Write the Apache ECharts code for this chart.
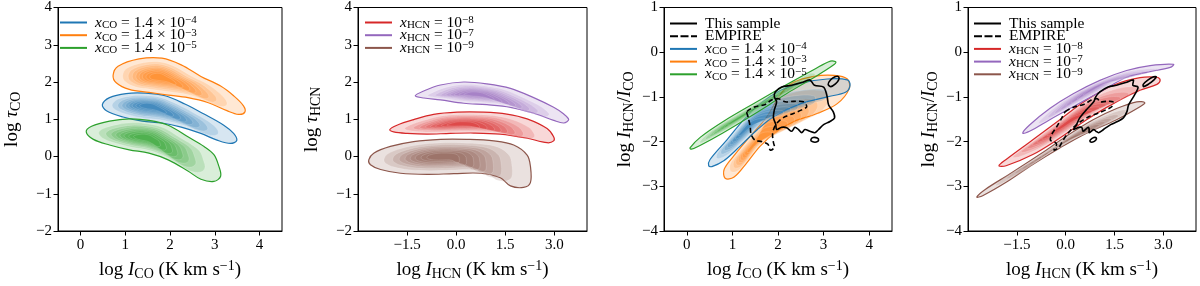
<!DOCTYPE html>
<html><head><meta charset="utf-8">
<script src="https://cdn.jsdelivr.net/npm/echarts@6/dist/echarts.min.js"></script>
<style>html,body{margin:0;padding:0;background:#fff}#c{width:1200px;height:286px}</style>
</head><body><div id="c"></div>
<script>
// ---------------- data ----------------
const xTicksCO = [0, 1, 2, 3, 4];
const xTickLabelsCO = ['0', '1', '2', '3', '4'];
const xTicksHCN = [-1.5, 0, 1.5, 3];
const xTickLabelsHCN = ['\u22121.5', '0.0', '1.5', '3.0'];
const yTicksTau = [-2, -1, 0, 1, 2, 3, 4];
const yTickLabelsTau = ['\u22122', '\u22121', '0', '1', '2', '3', '4'];
const yTicksRatio = [-4, -3, -2, -1, 0, 1];
const yTickLabelsRatio = ['\u22124', '\u22123', '\u22122', '\u22121', '0', '1'];

const coModelNames = ['xCO = 1.4e-4', 'xCO = 1.4e-3', 'xCO = 1.4e-5'];
const coModelLabels = ['{it|x}{sb|CO} = 1.4 \u00d7 10{sp|\u22124}', '{it|x}{sb|CO} = 1.4 \u00d7 10{sp|\u22123}', '{it|x}{sb|CO} = 1.4 \u00d7 10{sp|\u22125}'];
const hcnModelNames = ['xHCN = 1e-8', 'xHCN = 1e-7', 'xHCN = 1e-9'];
const hcnModelLabels = ['{it|x}{sb|HCN} = 10{sp|\u22128}', '{it|x}{sb|HCN} = 10{sp|\u22127}', '{it|x}{sb|HCN} = 10{sp|\u22129}'];
const obsNames = ['This sample', 'EMPIRE'];

const xTitleCO = 'log {it|I}{sb|CO} (K km s{sp|\u22121})';
const xTitleHCN = 'log {it|I}{sb|HCN} (K km s{sp|\u22121})';
const yTitleTauCO = 'log {it|\u03c4}{sb|CO}';
const yTitleTauHCN = 'log {it|\u03c4}{sb|HCN}';
const yTitleRatio = 'log {it|I}{sb|HCN}/{it|I}{sb|CO}';

// panel 1: log tau_CO vs log I_CO (outer contour + density peak)
const tauCO_x4 = [[0.49,1.39],[0.65,1.58],[1.02,1.69],[1.45,1.70],[1.89,1.63],[2.33,1.41],[2.76,1.14],[3.20,0.84],[3.42,0.62],[3.49,0.43],[3.35,0.35],[3.05,0.44],[2.69,0.62],[2.25,0.79],[1.82,0.90],[1.38,0.95],[0.95,1.06],[0.58,1.23]];
const tauCO_x4_peak = [1.53, 1.36];
const tauCO_x3 = [[0.73,2.18],[0.84,2.42],[1.31,2.62],[1.82,2.64],[2.25,2.46],[2.69,2.15],[3.13,1.89],[3.42,1.63],[3.64,1.36],[3.67,1.19],[3.53,1.13],[3.27,1.23],[2.84,1.45],[2.40,1.58],[1.96,1.65],[1.53,1.72],[1.09,1.80],[0.80,1.98]];
const tauCO_x3_peak = [1.75, 2.13];
const tauCO_x5 = [[0.13,0.66],[0.25,0.81],[0.65,0.95],[1.09,1.01],[1.53,0.97],[1.96,0.84],[2.40,0.53],[2.76,0.27],[2.98,0.05],[3.09,-0.26],[3.13,-0.53],[2.98,-0.67],[2.69,-0.61],[2.40,-0.39],[1.96,-0.09],[1.53,0.09],[1.09,0.18],[0.65,0.31],[0.29,0.46]];
const tauCO_x5_peak = [1.45, 0.50];

// panel 2: log tau_HCN vs log I_HCN
const tauHCN_x8 = [[-2.03,0.72],[-1.81,0.84],[-1.30,0.99],[-0.69,1.13],[0.03,1.19],[0.84,1.19],[1.55,1.14],[2.17,1.01],[2.78,0.75],[2.98,0.53],[2.98,0.42],[2.78,0.37],[2.17,0.49],[1.35,0.60],[0.54,0.63],[-0.18,0.62],[-0.89,0.60],[-1.50,0.62],[-1.91,0.66]];
const tauHCN_x8_peak = [0.15, 0.87];
const tauHCN_x7 = [[-1.25,1.63],[-0.99,1.76],[-0.48,1.92],[0.23,2.00],[0.94,1.95],[1.66,1.83],[2.37,1.58],[2.98,1.32],[3.29,1.14],[3.44,0.99],[3.29,0.90],[2.98,0.97],[2.37,1.16],[1.66,1.32],[0.94,1.39],[0.23,1.43],[-0.48,1.52],[-0.99,1.57]];
const tauHCN_x7_peak = [0.60, 1.67];
const tauHCN_x9 = [[-2.67,-0.09],[-2.52,0.09],[-2.01,0.27],[-1.30,0.40],[-0.48,0.46],[0.33,0.46],[1.15,0.42],[1.76,0.31],[2.17,0.04],[2.27,-0.26],[2.27,-0.70],[2.06,-0.83],[1.66,-0.79],[1.35,-0.57],[0.74,-0.45],[-0.07,-0.46],[-0.89,-0.48],[-1.70,-0.45],[-2.31,-0.35],[-2.62,-0.22]];
const tauHCN_x9_peak = [-0.45, 0.00];

// panel 3: log I_HCN/I_CO vs log I_CO
const ratCO_x4 = [[0.48,-2.54],[0.51,-2.40],[0.88,-1.96],[1.25,-1.51],[1.61,-1.15],[2.06,-0.85],[2.50,-0.69],[3.08,-0.60],[3.52,-0.62],[3.58,-0.74],[3.49,-0.89],[3.08,-1.00],[2.50,-1.15],[1.91,-1.44],[1.54,-1.74],[1.17,-2.10],[0.81,-2.43],[0.55,-2.56]];
const ratCO_x4_peak = [1.30, -1.70];
const ratCO_x3 = [[0.84,-2.82],[0.82,-2.62],[1.03,-2.32],[1.39,-1.88],[1.76,-1.44],[2.06,-0.93],[2.35,-0.67],[2.79,-0.54],[3.23,-0.52],[3.52,-0.60],[3.56,-0.82],[3.30,-1.15],[2.86,-1.37],[2.35,-1.55],[1.98,-1.77],[1.61,-2.10],[1.32,-2.47],[1.03,-2.80]];
const ratCO_x3_peak = [1.45, -2.10];
const ratCO_x5 = [[0.07,-2.14],[0.30,-1.90],[0.80,-1.55],[1.50,-1.13],[2.20,-0.72],[2.80,-0.38],[3.15,-0.20],[3.27,-0.22],[3.20,-0.30],[2.80,-0.56],[2.20,-0.92],[1.50,-1.37],[0.80,-1.80],[0.30,-2.08],[0.10,-2.17]];
const ratCO_x5_peak = [1.10, -1.50];
const sampleCO = [
  [[1.94,-0.89],[2.08,-0.78],[2.30,-0.74],[2.52,-0.68],[2.70,-0.62],[2.80,-0.74],[3.00,-0.78],[3.07,-0.96],[3.11,-1.18],[3.21,-1.33],[3.24,-1.47],[3.14,-1.55],[3.00,-1.62],[2.89,-1.73],[2.81,-1.80],[2.70,-1.77],[2.59,-1.73],[2.52,-1.80],[2.45,-1.73],[2.37,-1.68],[2.30,-1.77],[2.19,-1.69],[2.08,-1.68],[1.97,-1.73],[1.95,-1.61],[1.90,-1.47],[1.92,-1.29],[1.97,-1.11],[1.92,-1.00]],
  [[3.10,-0.72],[3.15,-0.62],[3.25,-0.55],[3.33,-0.55],[3.33,-0.62],[3.26,-0.71],[3.16,-0.77]],
  [[2.72,-1.96],[2.77,-1.91],[2.86,-1.92],[2.89,-1.97],[2.84,-2.01],[2.75,-2.00]]
];
const empireCO = [
  [[1.32,-1.33],[1.50,-1.22],[1.72,-1.17],[1.86,-1.07],[2.01,-1.04],[2.16,-1.11],[2.34,-1.10],[2.56,-1.11],[2.63,-1.22],[2.52,-1.29],[2.34,-1.37],[2.16,-1.44],[2.01,-1.55],[1.92,-1.68],[1.88,-1.84],[1.90,-2.02],[1.92,-2.13],[1.83,-2.19],[1.78,-2.06],[1.64,-2.00],[1.50,-1.97],[1.41,-1.84],[1.39,-1.66],[1.35,-1.47]]
];

// panel 4: log I_HCN/I_CO vs log I_HCN
const ratHCN_x8 = [[-2.05,-2.54],[-1.83,-2.40],[-1.01,-1.96],[-0.18,-1.51],[0.64,-1.07],[1.46,-0.74],[2.28,-0.57],[2.80,-0.56],[2.90,-0.62],[2.80,-0.72],[2.28,-0.85],[1.46,-1.15],[0.64,-1.51],[-0.18,-1.92],[-1.01,-2.29],[-1.83,-2.54]];
const ratHCN_x8_peak = [0.00, -1.60];
const ratHCN_x7 = [[-1.32,-1.81],[-1.11,-1.63],[-0.49,-1.26],[0.23,-0.93],[1.05,-0.63],[1.87,-0.41],[2.59,-0.30],[3.31,-0.27],[3.21,-0.34],[2.49,-0.45],[1.87,-0.56],[1.05,-0.89],[0.23,-1.22],[-0.49,-1.51],[-1.11,-1.77]];
const ratHCN_x7_peak = [1.00, -0.75];
const ratHCN_x9 = [[-2.73,-3.24],[-2.45,-3.06],[-1.73,-2.73],[-0.80,-2.29],[0.02,-1.88],[0.84,-1.51],[1.56,-1.26],[2.18,-1.11],[2.43,-1.13],[2.28,-1.22],[1.56,-1.51],[0.64,-1.81],[-0.18,-2.14],[-1.01,-2.51],[-1.83,-2.91],[-2.55,-3.21]];
const ratHCN_x9_peak = [0.00, -2.00];
const sampleHCN = [
  [[1.05,-0.89],[1.30,-0.78],[1.56,-0.74],[1.84,-0.68],[2.08,-0.62],[2.06,-0.74],[2.22,-0.78],[2.11,-0.96],[1.93,-1.18],[1.88,-1.33],[1.77,-1.47],[1.59,-1.55],[1.38,-1.62],[1.16,-1.73],[1.01,-1.80],[0.93,-1.77],[0.86,-1.73],[0.72,-1.80],[0.72,-1.73],[0.69,-1.68],[0.53,-1.77],[0.50,-1.69],[0.40,-1.68],[0.24,-1.73],[0.34,-1.61],[0.43,-1.47],[0.63,-1.29],[0.86,-1.11],[0.92,-1.00]],
  [[2.38,-0.72],[2.53,-0.62],[2.70,-0.55],[2.78,-0.55],[2.71,-0.62],[2.55,-0.71],[2.39,-0.77]],
  [[0.76,-1.96],[0.86,-1.91],[0.94,-1.92],[0.92,-1.97],[0.83,-2.01],[0.75,-2.00]]
];
const empireHCN = [
  [[-0.01,-1.33],[0.28,-1.22],[0.55,-1.17],[0.79,-1.07],[0.97,-1.04],[1.05,-1.11],[1.24,-1.10],[1.45,-1.11],[1.41,-1.22],[1.23,-1.29],[0.97,-1.37],[0.72,-1.44],[0.46,-1.55],[0.24,-1.68],[0.04,-1.84],[-0.12,-2.02],[-0.21,-2.13],[-0.36,-2.19],[-0.28,-2.06],[-0.36,-2.00],[-0.47,-1.97],[-0.43,-1.84],[-0.27,-1.66],[-0.12,-1.47]]
];

// ---------------- style ----------------
const SERIF = '"Liberation Serif","DejaVu Serif",serif';
const C = {blue:'#1f77b4', orange:'#ff7f0e', green:'#2ca02c', red:'#d62728', purple:'#9467bd', brown:'#8c564b'};
const LEVELS = [1, 0.79, 0.67, 0.58, 0.50, 0.43, 0.36, 0.28, 0.20];
const ALPHA = 0.18;
const TICK_FS = 15, TITLE_FS = 19, LEG_FS = 15.5;
function rgba(hex, a){const n=parseInt(hex.slice(1),16);return `rgba(${n>>16},${(n>>8)&255},${n&255},${a})`;}
function rich(base, lh){
  const s = Math.round(base*0.72);
  return {
    it:{fontFamily:SERIF, fontStyle:'italic', fontSize:base, lineHeight:lh},
    sb:{fontFamily:SERIF, fontSize:s, verticalAlign:'bottom', lineHeight:s},
    sp:{fontFamily:SERIF, fontSize:s, verticalAlign:'top', lineHeight:s-2}
  };
}
const LINE_ICON = 'path://M0,0H27V2H0Z';
const DASH_ICON = 'path://M0,0H8V2H0Z M10.5,0H18.5V2H10.5Z M21,0H27V2H21Z';

function modelSeries(name, color, outline, peak, gi){
  return {
    type:'custom', name, xAxisIndex:gi, yAxisIndex:gi, clip:false,
    itemStyle:{color},
    data: LEVELS.map(s=>[s]),
    renderItem(params, api){
      const s = api.value(0);
      const pts = outline.map(p=>api.coord([peak[0]+(p[0]-peak[0])*s, peak[1]+(p[1]-peak[1])*s]));
      const first = params.dataIndex===0;
      return {type:'polygon', shape:{points:pts, smooth:0.35},
        style:{fill:rgba(color, ALPHA), stroke: first?color:'rgba(255,255,255,0.3)', lineWidth: first?1.2:0.5}};
    }
  };
}
function obsSeries(name, polys, dashed, gi){
  return {
    type:'custom', name, xAxisIndex:gi, yAxisIndex:gi, clip:false,
    itemStyle:{color:'#000'},
    data: polys.map((_,i)=>[i]),
    renderItem(params, api){
      const poly = polys[api.value(0)];
      const pts = poly.map(p=>api.coord(p));
      return {type:'polygon', shape:{points:pts, smooth:0.3},
        style:{fill:'none', stroke:'#000', lineWidth:1.6, lineDash: dashed?[5,3]:null}};
    }
  };
}
function lookup(ticks, labels){ return v => { const i = ticks.findIndex(t=>Math.abs(t-v)<1e-9); return i<0?'':labels[i]; }; }
function titleStyle(){ return {fontFamily:SERIF, fontSize:TITLE_FS, color:'#000', lineHeight:22, rich:rich(TITLE_FS, 22)}; }
function xAx(gi, min, max, ticks, labels, title){
  return {type:'value', gridIndex:gi, min, max,
    axisLine:{show:true, onZero:false, lineStyle:{color:'#000', width:1}},
    axisTick:{show:true, length:4.5, lineStyle:{color:'#000', width:1}, customValues:ticks},
    axisLabel:{customValues:ticks, formatter:lookup(ticks,labels), fontFamily:SERIF, fontSize:TICK_FS, color:'#000', margin:7},
    splitLine:{show:false},
    name:title, nameLocation:'middle', nameGap:28,
    nameTextStyle:titleStyle()};
}
function yAx(gi, min, max, ticks, labels, title, gap){
  return {type:'value', gridIndex:gi, min, max,
    axisLine:{show:true, onZero:false, lineStyle:{color:'#000', width:1}},
    axisTick:{show:true, length:4.5, lineStyle:{color:'#000', width:1}, customValues:ticks},
    axisLabel:{customValues:ticks, formatter:lookup(ticks,labels), fontFamily:SERIF, fontSize:TICK_FS, color:'#000', margin:6},
    splitLine:{show:false},
    name:title, nameLocation:'middle', nameGap:gap, nameRotate:90,
    nameTextStyle:titleStyle()};
}
function legend(left, top, items){
  const map = {}; items.forEach(it=>map[it.name]=it.label);
  return {orient:'vertical', left, top, padding:0, itemWidth:27, itemHeight:2, itemGap:-3.3, selectedMode:false,
    data: items.map(it=>({name:it.name, icon:it.icon, itemStyle:{color:it.color}})),
    formatter: n => map[n],
    textStyle:{fontFamily:SERIF, fontSize:LEG_FS, color:'#000', lineHeight:16, padding:[0,0,0,3], rich:rich(LEG_FS, 16)}};
}

const coColors = [C.blue, C.orange, C.green];
const hcnColors = [C.red, C.purple, C.brown];
const coItems = coModelNames.map((n,i)=>({name:n, label:coModelLabels[i], color:coColors[i], icon:LINE_ICON}));
const hcnItems = hcnModelNames.map((n,i)=>({name:n, label:hcnModelLabels[i], color:hcnColors[i], icon:LINE_ICON}));
const obsItems = [{name:obsNames[0], label:obsNames[0], color:'#000', icon:LINE_ICON},{name:obsNames[1], label:obsNames[1], color:'#000', icon:DASH_ICON}];

const grids = [
  {left:53, top:7, width:229, height:228},
  {left:358, top:7, width:229, height:228},
  {left:664, top:7, width:228, height:228},
  {left:968, top:7, width:228, height:228}
].map(g=>Object.assign(g,{show:true, borderColor:'#000', borderWidth:1, backgroundColor:'transparent', containLabel:false}));

const option = {
  animation:false,
  grid: grids,
  xAxis:[
    xAx(0,-0.5,4.5,xTicksCO,xTickLabelsCO,xTitleCO),
    xAx(1,-3,4,xTicksHCN,xTickLabelsHCN,xTitleHCN),
    xAx(2,-0.5,4.5,xTicksCO,xTickLabelsCO,xTitleCO),
    xAx(3,-3,4,xTicksHCN,xTickLabelsHCN,xTitleHCN)
  ],
  yAxis:[
    yAx(0,-2,4,yTicksTau,yTickLabelsTau,yTitleTauCO,35),
    yAx(1,-2,4,yTicksTau,yTickLabelsTau,yTitleTauHCN,35),
    yAx(2,-4,1,yTicksRatio,yTickLabelsRatio,yTitleRatio,28),
    yAx(3,-4,1,yTicksRatio,yTickLabelsRatio,yTitleRatio,28)
  ],
  legend:[
    legend(60,14.5,coItems),
    legend(365,14.5,hcnItems),
    legend(670,15.5,obsItems.concat(coItems)),
    legend(974,15.5,obsItems.concat(hcnItems))
  ],
  series:[
    modelSeries(coModelNames[0], C.blue, tauCO_x4, tauCO_x4_peak, 0),
    modelSeries(coModelNames[1], C.orange, tauCO_x3, tauCO_x3_peak, 0),
    modelSeries(coModelNames[2], C.green, tauCO_x5, tauCO_x5_peak, 0),
    modelSeries(hcnModelNames[0], C.red, tauHCN_x8, tauHCN_x8_peak, 1),
    modelSeries(hcnModelNames[1], C.purple, tauHCN_x7, tauHCN_x7_peak, 1),
    modelSeries(hcnModelNames[2], C.brown, tauHCN_x9, tauHCN_x9_peak, 1),
    modelSeries(coModelNames[1], C.orange, ratCO_x3, ratCO_x3_peak, 2),
    modelSeries(coModelNames[0], C.blue, ratCO_x4, ratCO_x4_peak, 2),
    modelSeries(coModelNames[2], C.green, ratCO_x5, ratCO_x5_peak, 2),
    obsSeries(obsNames[0], sampleCO, false, 2),
    obsSeries(obsNames[1], empireCO, true, 2),
    modelSeries(hcnModelNames[0], C.red, ratHCN_x8, ratHCN_x8_peak, 3),
    modelSeries(hcnModelNames[1], C.purple, ratHCN_x7, ratHCN_x7_peak, 3),
    modelSeries(hcnModelNames[2], C.brown, ratHCN_x9, ratHCN_x9_peak, 3),
    obsSeries(obsNames[0], sampleHCN, false, 3),
    obsSeries(obsNames[1], empireHCN, true, 3)
  ]
};
const chart = echarts.init(document.getElementById('c'), null, {renderer:'canvas'});
chart.setOption(option);
</script></body></html>
